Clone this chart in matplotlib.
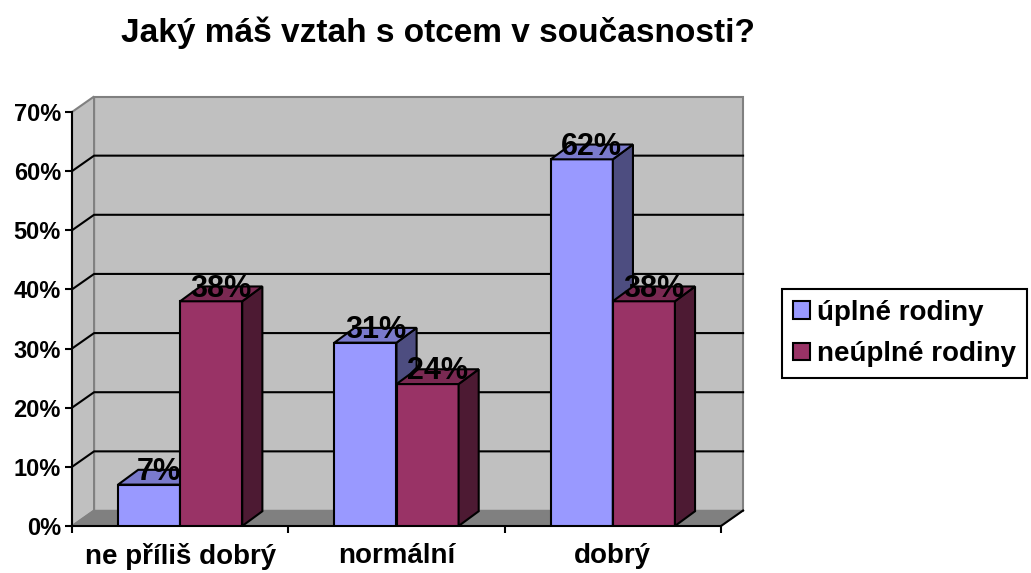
import numpy as np
import matplotlib.pyplot as plt
from matplotlib.patches import Patch, Polygon

# data
categories = ['ne příliš dobrý', 'normální', 'dobrý']
uplne = [7, 31, 62]
neuplne = [38, 24, 38]
series_names = ['úplné rodiny', 'neúplné rodiny']
y_ticks = [0, 10, 20, 30, 40, 50, 60, 70]

plt.rcParams['font.family'] = ['Liberation Sans', 'DejaVu Sans']

front_colors = ['#9999ff', '#993366']
top_colors = ['#7a7acc', '#7a2952']
side_colors = ['#4d4d80', '#4d1a33']

fig = plt.figure(figsize=(10.31, 5.73), dpi=100)
ax = fig.add_axes([72 / 1031, 47 / 573, 649 / 1031, 414 / 573])
ax.set_xlim(-0.5, 2.5)
ax.set_ylim(0, 70)
ax.patch.set_visible(False)

# depth of walls and of bars, in data units
wdx, wdy = 0.102, 2.62
bdx, bdy = 0.093, 2.5
width = 0.287

x0, x1, ytop = -0.5, 2.5, y_ticks[-1]

# walls and floor
back = Polygon([(x0 + wdx, wdy), (x1 + wdx, wdy), (x1 + wdx, ytop + wdy), (x0 + wdx, ytop + wdy)],
               facecolor='#c0c0c0', edgecolor='#808080', lw=1.5, zorder=0.5, clip_on=False)
left = Polygon([(x0, 0), (x0 + wdx, wdy), (x0 + wdx, ytop + wdy), (x0, ytop)],
               facecolor='#c0c0c0', edgecolor='#808080', lw=1.5, zorder=0.5, clip_on=False)
floor = Polygon([(x0, 0), (x1, 0), (x1 + wdx, wdy), (x0 + wdx, wdy)],
                facecolor='#808080', edgecolor='#808080', lw=1, zorder=1.2, clip_on=False)
ax.add_patch(back)
ax.add_patch(left)
ax.add_patch(floor)
ax.plot([x1, x1 + wdx], [0, wdy], color='black', lw=1.5, zorder=1.3, clip_on=False)

# gridlines on back and left wall
for v in y_ticks[1:-1]:
    ax.plot([x0, x0 + wdx, x1 + wdx], [v, v + wdy, v + wdy], color='black', lw=1.5,
            zorder=1, clip_on=False)

# bars with 3d faces
x = np.arange(len(categories))
for s, vals in enumerate([uplne, neuplne]):
    z = 3 + 2 * s
    pos = x + (s - 0.5) * width
    ax.bar(pos, vals, width=width, color=front_colors[s], edgecolor='black', lw=1.5, zorder=z)
    for p, v in zip(pos, vals):
        l, r = p - width / 2, p + width / 2
        ax.add_patch(Polygon([(r, 0), (r + bdx, bdy), (r + bdx, v + bdy), (r, v)],
                             facecolor=side_colors[s], edgecolor='black', lw=1.5, zorder=z,
                             clip_on=False))
        ax.add_patch(Polygon([(l, v), (r, v), (r + bdx, v + bdy), (l + bdx, v + bdy)],
                             facecolor=top_colors[s], edgecolor='black', lw=1.5, zorder=z,
                             clip_on=False))
        ax.text(p + bdx / 2, v + 0.8, f'{v}%', ha='center', va='baseline', fontsize=22,
                fontweight='bold', zorder=z + 1, clip_on=False)

# axes
for side in ['top', 'right']:
    ax.spines[side].set_visible(False)
ax.spines['left'].set_linewidth(1.5)
ax.spines['bottom'].set_linewidth(1.5)
ax.spines['left'].set_zorder(2)
ax.set_yticks(y_ticks)
ax.set_yticklabels([f'{v}%' for v in y_ticks], fontsize=17, fontweight='bold')
ax.tick_params(axis='y', length=5, width=1.5, pad=3)
ax.set_xticks(x)
ax.set_xticklabels(categories, fontsize=20, fontweight='bold')
ax.set_xticks(np.arange(-0.5, 3, 1), minor=True)
ax.tick_params(axis='x', which='major', length=0, pad=12)
ax.tick_params(axis='x', which='minor', length=5, width=1.5)

fig.text(438 / 1031, 1 - 42 / 573, 'Jaký máš vztah s otcem v současnosti?', ha='center',
         va='baseline', fontsize=24, fontweight='bold')

handles = [Patch(facecolor=front_colors[i], edgecolor='black', lw=1.5, label=series_names[i])
           for i in range(2)]
leg = fig.legend(handles=handles, loc='center left', bbox_to_anchor=(782 / 1031, 1 - 333.5 / 573),
                 frameon=True, fancybox=False, edgecolor='black', framealpha=1,
                 prop={'weight': 'bold', 'size': 20}, handlelength=0.6, handleheight=0.6,
                 handletextpad=0.25, borderpad=0.4, labelspacing=0.55, borderaxespad=0)
leg.get_frame().set_linewidth(1.5)

fig.savefig('out.png', dpi=100)
